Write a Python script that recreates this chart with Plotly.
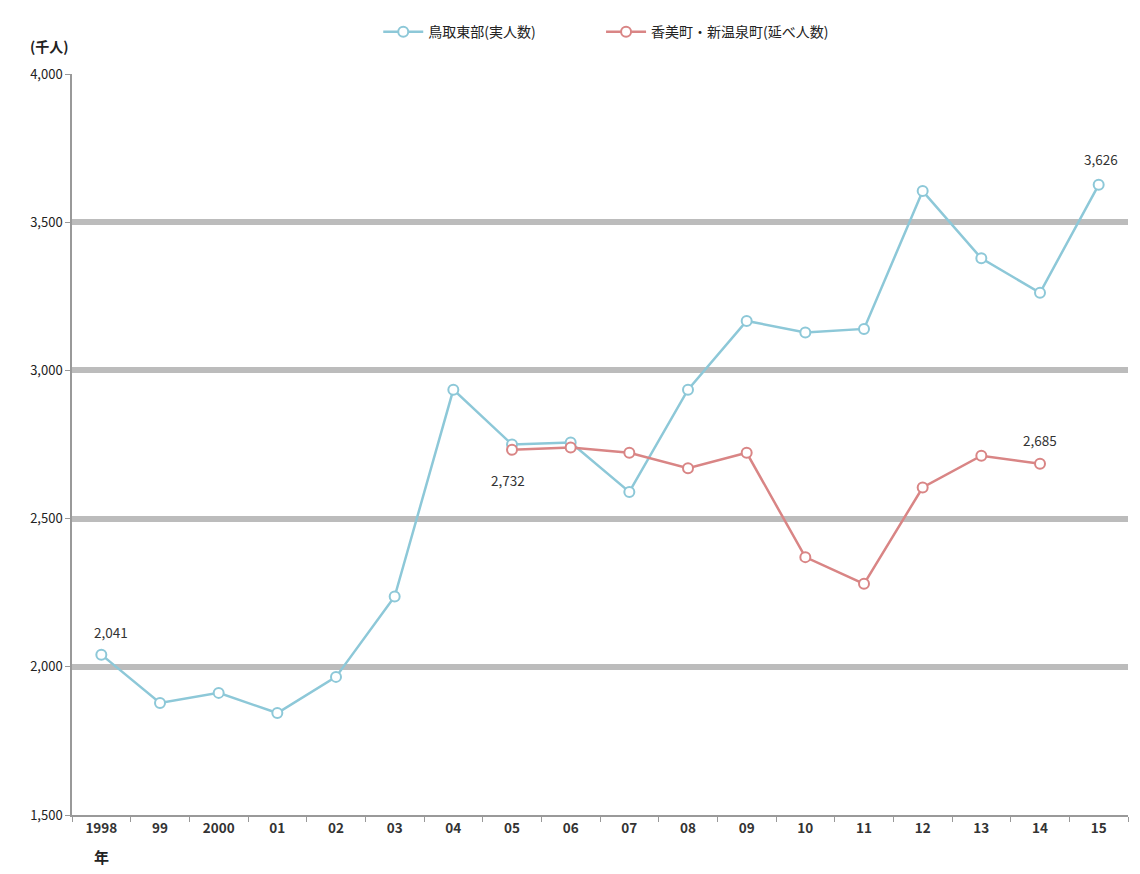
import plotly.graph_objects as go

years = ["1998", "99", "2000", "01", "02", "03", "04", "05", "06", "07", "08", "09", "10", "11", "12", "13", "14", "15"]
tottori = [2041, 1878, 1912, 1844, 1966, 2237, 2935, 2750, 2757, 2590, 2935, 3167, 3128, 3140, 3605, 3378, 3262, 3626]
kami_years = ["05", "06", "07", "08", "09", "10", "11", "12", "13", "14"]
kami = [2732, 2740, 2722, 2670, 2722, 2370, 2280, 2605, 2712, 2685]
y_ticks = [1500, 2000, 2500, 3000, 3500, 4000]
y_labels = ["1,500", "2,000", "2,500", "3,000", "3,500", "4,000"]

blue = "#8dc8d8"
red = "#d98585"
font = "Noto Sans CJK JP"

fig = go.Figure()
fig.add_trace(go.Scatter(
    x=years, y=tottori, name="鳥取東部(実人数)", mode="lines+markers",
    line=dict(color=blue, width=2.5), legend="legend",
    marker=dict(symbol="circle", size=10, color="white", line=dict(color=blue, width=2)),
))
fig.add_trace(go.Scatter(
    x=kami_years, y=kami, name="香美町・新温泉町(延べ人数)", mode="lines+markers",
    line=dict(color=red, width=2.5), legend="legend2",
    marker=dict(symbol="circle", size=10, color="white", line=dict(color=red, width=2)),
))

def idx(cat):
    return years.index(cat)

ann_font = dict(family=font, size=13.5, color="#333")
fig.add_annotation(x=idx(years[0]), y=tottori[0], text=f"{tottori[0]:,}", showarrow=False, yshift=23, xshift=10, font=ann_font)
fig.add_annotation(x=idx(years[-1]), y=tottori[-1], text=f"{tottori[-1]:,}", showarrow=False, yshift=26, xshift=2, font=ann_font)
fig.add_annotation(x=idx(kami_years[0]), y=kami[0], text=f"{kami[0]:,}", showarrow=False, yshift=-30, xshift=-4, font=ann_font)
fig.add_annotation(x=idx(kami_years[-1]), y=kami[-1], text=f"{kami[-1]:,}", showarrow=False, yshift=24, font=ann_font)
fig.add_annotation(xref="paper", yref="paper", x=-0.021, y=1.0, yshift=40, text="<b>(千人)</b>", showarrow=False,
                   xanchor="center", font=dict(family=font, size=14, color="#222"))
fig.add_annotation(x=idx(years[0]), yref="paper", y=0, yshift=-54, text="<b>年</b>", showarrow=False,
                   font=dict(family=font, size=15, color="#222"))

leg_common = dict(orientation="h", xanchor="left", y=1.035, yanchor="bottom",
                  font=dict(family=font, size=14, color="#222"), itemwidth=40, bgcolor="rgba(0,0,0,0)")

fig.update_layout(
    width=1140, height=874,
    margin=dict(l=72, r=12, t=74, b=59),
    paper_bgcolor="white", plot_bgcolor="white",
    font=dict(family=font, size=13, color="#222"),
    showlegend=True,
    legend=dict(x=0.29, **leg_common),
    legend2=dict(x=0.501, **leg_common),
    xaxis=dict(type="category", categoryorder="array", categoryarray=years,
               tickvals=years, ticktext=[f"<b>{y}</b>" for y in years],
               showgrid=False, showline=True, linecolor="#999", linewidth=1.5,
               ticks="outside", tickson="boundaries", ticklen=5, tickcolor="#999",
               tickfont=dict(family=font, size=13.5, color="#333"), range=[-0.5, 17.5]),
    yaxis=dict(range=[1500, 4000], tickvals=y_ticks, ticktext=y_labels,
               showgrid=True, gridcolor="#bcbcbc", gridwidth=6,
               showline=True, linecolor="#999", linewidth=1.5,
               ticks="outside", ticklen=5, tickcolor="#999", zeroline=False,
               tickfont=dict(family=font, size=13, color="#222")),
)
fig.write_html("out.html")
